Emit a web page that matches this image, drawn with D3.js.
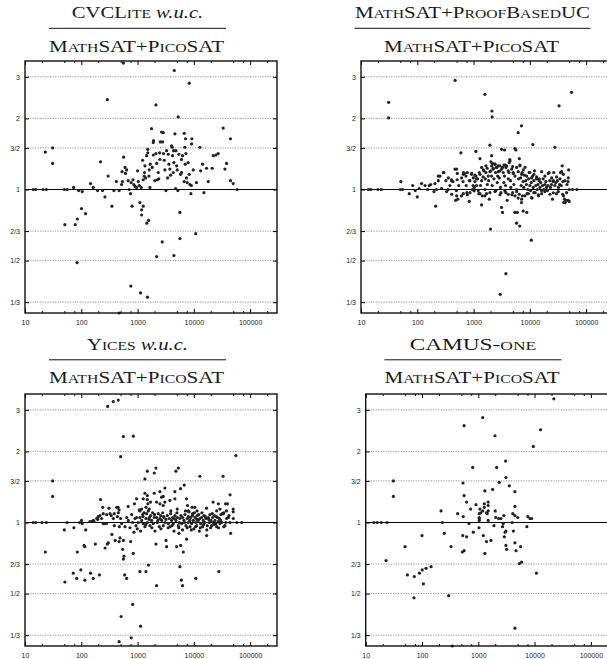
<!DOCTYPE html>
<html><head><meta charset="utf-8">
<script src="https://cdn.jsdelivr.net/npm/d3@7"></script>
<style>body{margin:0;background:#fff}svg{display:block}</style>
</head><body><svg id="c" width="607" height="659"></svg>
<script>
// ---------- data ----------
const xTickValues = [10, 100, 1000, 10000, 100000];
const xTickLabels = ["10", "100", "1000", "10000", "100000"];
const xMinorTickValues = [20, 50, 75, 200, 500, 750, 2000, 5000, 7500, 20000, 50000, 75000, 200000];
const yTickValues = [1/3, 1/2, 2/3, 1, 3/2, 2, 3];
const yTickLabels = ["1/3", "1/2", "2/3", "1", "3/2", "2", "3"];

// [instance size, time ratio]
const cvcData = [
[14,1],[15.5,1],[21,1],[24,1],[23,1.44],[31,1.5],[31,1.29],[50,1],[56,1],[51,0.71],
[73,1.02],[85,0.75],[78,0.71],[84,0.49],[90,0.99],[104,0.98],[101,0.83],[119,0.79],
[146,1.06],[163,1.02],[195,0.99],[220,1.31],[239,0.99],[263,0.93],[290,2.4],[300,1.14],
[350,0.85],[380,0.99],[420,1.08],[470,0.99],[560,3.43],[470,0.30],
[520,1.05],[540,1.08],[565,1.37],[530,1.19],[600,1.24],[610,1.17],[640,1.21],[680,1.09],
[710,1.0],[750,0.96],[770,1.07],[800,0.85],[830,1.1],[860,1.05],[900,1.03],[960,1.02],
[1000,1.2],[1030,1.08],[1070,1.04],[1100,0.88],[1160,1.02],[1180,0.82],[1180,0.78],
[1260,0.85],[1260,1.1],[1230,1.33],[1350,1.26],[1330,1.18],[1310,1.14],[1390,1.12],
[1450,1.39],[1460,0.72],[1570,0.74],[1520,1.43],[1520,1.48],[1590,1.14],[1610,1.21],
[1680,1.28],[1660,1.02],[1770,1.81],[1820,1.24],[1900,1.58],[1920,1.61],[1900,1.4],
[2030,1.09],[2120,1.42],[2180,1.29],[2240,1.1],[2330,1.18],[2380,1.11],[2460,1.43],
[2490,1.34],[2530,1.59],[2670,1.75],[2780,1.59],[2860,1.74],[2890,1.42],[2980,1.33],
[3060,1.21],[3190,0.99],[3280,1.46],[3420,1.12],[3510,1.41],[3600,1.28],[3750,1.22],
[3850,1.15],[4020,1.53],[4130,1.51],[4180,1.39],[4300,1.18],[4360,1.46],[4420,1.3],
[4610,1.72],[4740,1.01],[4810,1.46],[4940,1.26],[5070,1.21],[5200,0.99],[5280,2.03],
[5420,1.41],[5650,0.8],[5800,1.16],[6040,1.34],[6040,1.18],[6300,1.39],[6730,1.73],
[6730,1.08],[6920,1.51],[7120,1.64],[7020,1.28],[7220,1.42],[7420,1.12],[7620,1.07],
[7940,1.3],[8280,1.16],[8510,1.05],[8870,0.96],[9110,1.56],[9230,1.64],[9000,1.04],
[9750,1.21],[11100,1.07],[12800,1.51],[13200,1.2],[14300,1.28],[15100,0.97],[16800,1.23],
[18000,1.08],[21200,1.23],[22100,1.39],[24600,1.4],[27000,1.42],[33200,1.82],[35600,1.22],
[38100,1.29],[44800,1.64],[44800,1.09],[50000,1.06],[58800,1.0],
[2740,0.6],[2180,0.52],[4420,0.525],[5650,0.62],[10800,0.65],[760,0.39],[1130,0.365],
[1500,0.35],[2120,2.28],[4490,3.19],[8280,2.82]
];

const proofData = [
[13.5,1],[15,1],[20,1],[23,1],[31,2.34],[31,2.01],[51,1.08],[50,1],[55,1],[72,0.96],
[83,1.04],[92,0.99],[100,0.93],[108,1.01],[119,1.06],[137,1.04],[153,1.0],[163,1.04],
[173,1.05],[198,0.98],[206,1.06],[212,0.85],[220,1.0],[236,1.09],[253,1.14],[270,1.01],
[297,1.18],[322,1.09],[354,1.0],[380,1.04],[405,1.1],[430,1.08],[467,1.22],[480,0.9],
[495,0.99],[510,1.1],[525,0.91],[545,1.04],[595,1.43],[610,0.94],[650,1.08],[660,1.18],
[690,1.17],[740,1.04],[760,0.97],[840,0.89],[860,1.09],[920,1.16],[950,1.0],[980,1.04],
[1030,1.02],[1060,1.08],[1100,1.14],[1130,1.04],[1180,1.11],[1210,0.99],[1240,0.96],
[1260,1.18],[1300,1.35],[1330,1.04],[1390,1.09],[1430,0.94],[1480,1.13],[1530,1.2],
[1590,1.0],[1610,1.11],[1660,1.26],[1700,0.96],[1750,1.05],[1820,1.14],[1850,1.09],
[1900,0.91],[2030,1.2],[2090,1.14],[2140,1.04],[2170,1.29],[2230,1.23],[2300,1.11],
[2390,1.28],[2460,1.18],[2490,0.99],[2560,1.24],[2630,1.07],[2670,1.14],[2740,1.26],
[2860,1.12],[2940,1.2],[3010,1.02],[3070,0.97],[3270,1.24],[3370,1.18],[3450,1.07],
[3550,1.14],[3600,1.27],[3700,1.04],[3750,0.97],[3860,1.26],[3950,0.9],[4130,1.11],
[4240,1.18],[4300,1.3],[4400,1.34],[4530,1.09],[4590,1.02],[4800,0.95],[4940,1.25],
[5050,1.18],[5200,1.05],[5430,1.49],[5650,1.47],[5820,1.0],[6000,0.8],[6200,0.92],
[6300,1.11],[6500,1.35],[6660,1.26],[6860,1.12],[7000,1.04],[7100,0.88],[7300,1.18],
[7400,0.94],[7600,1.08],[7800,1.02],[8000,1.15],[8200,1.24],[8450,1.09],[8700,1.05],
[8940,0.96],[9200,1.0],[9450,1.11],[9730,1.18],[10000,1.04],[10300,0.99],[10600,1.07],
[10900,0.92],[11200,1.14],[11500,1.02],[11800,1.09],[12100,1.2],[12400,0.97],[12800,1.04],
[13100,1.11],[13500,1.0],[13900,1.05],[14300,0.94],[14600,1.09],[15100,1.02],[15600,1.07],
[16100,0.99],[16800,1.04],[17200,1.11],[17700,1.0],[18500,1.05],[19200,1.08],[19700,1.02],
[20500,0.99],[21000,1.04],[22000,1.18],[22600,1.09],[23200,1.02],[24200,1.05],[25200,0.91],
[25800,1.08],[26500,1.18],[27800,1.04],[28900,1.07],[29700,0.96],[30800,1.09],[32200,1.02],
[33800,1.05],[35000,1.18],[36000,1.04],[37600,1.26],[38600,1.08],[39600,0.94],[41200,0.91],
[42400,0.88],[44000,0.9],[45700,1.05],[47600,1.08],[48900,1.21],[50200,1.0],[57400,1.0],
[68600,1.0],
[470,2.9],[1590,2.53],[2120,2.15],[2140,2.03],[1950,1.54],[2090,1.39],[2030,1.31],
[1100,1.45],[3140,1.48],[3550,1.47],[7100,1.86],[6200,1.74],[11300,1.55],[27800,1.51],
[33000,2.26],[55000,2.58],[1390,0.86],[3140,0.84],[3270,0.8],[5400,0.8],[5800,0.72],
[6600,0.7],[7600,0.81],[8800,0.8],[2000,0.68],[10600,0.61],[3750,0.44],[2980,0.36],
[40000,0.88],[48000,0.9],[50000,0.89],
[236,1.14],[290,1.18],[356,1.12],[408,1.09],[500,1.22],[514,1.17],[614,1.12],[657,1.16],
[733,1.14],[774,1.18],[840,1.09],[925,1.17],[990,1.12],[1060,1.15],[1130,1.11],[1300,1.16],
[1390,1.24],[1490,1.21],[1660,1.18],[1750,1.23],[1950,1.19],[2090,1.26],[2240,1.22],
[2400,1.28],[2570,1.24],[2750,1.19],[2940,1.26],[3150,1.22],[3470,1.27],[3770,1.24],
[4140,1.2],[4440,1.32],[4750,1.22],[5080,1.17],[5440,1.14],[5820,1.24],[6230,1.19],
[6670,1.27],[7140,1.16],[7640,1.21],[8770,1.14],[10000,1.18],[10700,1.12],[11800,1.16],
[13200,1.13],[14700,1.11],[16200,1.19],[18500,1.14],[21200,1.17],[24400,1.12],[26100,1.09],
[29900,1.13],[34300,1.11],[36700,1.19],[39300,1.16],[42000,1.09],[48200,1.12],
[333,0.98],[408,0.955],[500,0.94],[657,0.96],[774,0.95],[863,0.97],[1020,0.987],[1300,0.96],
[1590,0.94],[1950,0.97],[2400,0.98],[2940,0.95],[3600,0.987],[4140,0.955],[4950,0.97],
[5440,0.94],[5820,0.98],[6480,0.955],[7140,0.91],[8180,0.94],[9380,0.96],[10700,0.925],
[11800,0.97],[14100,0.95],[16200,0.96],[18500,0.98],[22800,0.955],[26100,0.968],[32000,0.98],
[38200,0.955],[45000,0.97]
];

const yicesData = [
[14,1],[15.5,1],[20,1],[24,1],[31,1.5],[31,1.29],[23,0.75],[50,0.93],[51,0.56],[56,1],
[74,0.95],[85,0.75],[72,0.61],[83,0.58],[93,1],[98,0.63],[101,1.02],[104,0.99],[116,0.79],
[116,0.57],[120,0.93],[146,0.61],[163,0.58],[178,0.81],[210,0.6],[220,1.25],[240,1.16],
[245,1.09],[265,0.78],[290,0.81],[310,1.15],[350,0.89],[400,0.84],[150,1.01],[168,1.01],
[195,1.03],[215,1.07],[255,0.99],[280,0.99],[340,1.07],[385,1.09],[425,1.16],[450,1.16],
[470,0.83],
[294,3.1],[370,3.25],[454,3.3],[560,2.31],[840,2.32],[500,1.9],
[510,0.40],[820,0.45],[1130,0.364],[770,0.325],[470,0.313],
[1490,1.65],[2120,1.7],[1980,1.62],[4800,1.65],[5300,1.7],[1350,1.53],[12800,1.57],
[33000,1.57],[55600,1.92],[6750,1.44],[5800,1.39],[3060,1.4],[4600,1.35],[1350,1.33],
[1490,1.3],[1980,1.33],[2490,1.35],[2670,1.28],[2860,1.29],[960,1.26],[1490,1.25],
[1700,1.22],[1260,1.26],[470,1.13],[680,1.17],[880,1.2],[1100,1.12],[1180,1.14],
[1410,1.16],[1520,1.2],[1610,1.14],[2180,1.22],[2490,1.2],[2850,1.18],[3060,1.22],
[3750,1.24],[4600,1.26],[5070,1.14],[7400,1.26],[7700,1.18],[7900,1.12],[9300,1.16],
[10400,1.16],[11400,1.12],[16800,1.15],[22000,1.22],[25400,1.12],[27200,1.2],[29000,1.14],
[36600,1.2],[38000,1.12],[39500,1.2],[44000,1.31],[32000,1.09],[34000,1.1],[50000,1.14],
[50000,1.11],[37000,1.0],[45000,0.9],[58000,1],[71000,1],
[143,1.01],[164,1.02],[188,1.04],[200,1.06],[230,1.04],[246,0.99],[282,1.08],[324,1.09],
[371,1.04],[386,0.97],[437,1.06],[455,1.1],[474,0.96],[500,1.04],[521,0.99],[598,0.96],
[640,1.05],[685,1.02],[733,0.95],[785,1.08],[817,1.0],[900,1.04],[937,0.97],[963,1.05],
[990,0.94],[1030,1.0],[1070,1.13],[1100,1.05],[1180,1.02],[1230,1.08],[1265,0.99],
[1300,1.1],[1350,0.96],[1410,1.04],[1450,1.09],[1490,1.0],[1550,1.12],[1615,1.05],
[1660,0.97],[1705,1.07],[1780,1.02],[1850,1.1],[1900,0.99],[1985,1.05],[2180,1.05],
[2240,1.0],[2330,1.09],[2430,0.96],[2500,1.04],[2570,1.07],[2680,1.02],[2790,1.1],
[2860,0.97],[2940,1.05],[3070,1.0],[3380,1.07],[3520,0.99],[3660,1.04],[3770,0.96],
[3870,1.09],[4030,1.02],[4200,1.05],[4310,0.99],[4440,0.92],[4620,1.07],[4810,1.02],
[5080,1.05],[5290,0.97],[5510,1.0],[5660,1.04],[6070,0.99],[6320,1.05],[6670,1.02],
[6950,1.08],[7240,0.97],[7640,1.04],[7960,1.0],[8180,1.11],[8530,0.96],[8770,1.05],
[9130,0.99],[9510,1.09],[9770,1.02],[10000,0.94],[10500,1.05],[10900,1.0],[11200,0.97],
[11500,1.07],[12000,1.02],[12500,0.92],[12800,1.04],[13200,0.99],[13700,1.05],[14300,0.96],
[14700,1.02],[15100,1.07],[15700,1.0],[16400,1.04],[17300,0.97],[18100,1.05],[18800,1.0],
[19300,1.08],[20100,1.02],[20700,0.97],[21600,1.05],[22100,1.0],[23100,1.07],[23700,1.02],
[24700,0.99],[25400,0.96],[26400,1.05],[27200,1.01],[28300,1.04],[29100,0.99],[30300,1.08],
[31100,1.0],[33300,1.09],[35700,0.97],[38200,1.04],[40900,1.05],[43800,1.0],[50200,1.04],
[112,0.8],[302,0.82],[487,0.86],[543,0.77],[558,0.84],[573,0.72],[753,0.83],[840,0.74],
[863,0.91],[1130,0.92],[2040,0.92],[2120,0.81],[3200,0.84],[3280,0.79],[4940,0.79],
[5440,0.9],[5820,0.8],[6490,0.75],[7440,0.85],[16900,0.88],
[560,0.7],[590,0.6],[640,0.58],[1100,0.62],[1410,0.62],[1560,0.66],[2180,0.54],[5650,0.65],
[6000,0.57],[6300,0.54],[10800,0.58],[27800,0.62],
[1250,1.06],[1400,0.98],[1600,1.03],[1800,0.95],[2000,1.08],[2300,1.02],[2600,0.94],
[2900,1.06],[3200,1.03],[3500,0.95],[3900,1.12],[4100,0.97],[4500,1.04],[5000,1.1],
[5400,0.95],[5900,1.07],[6300,0.93],[6800,1.0],[7100,1.12],[7600,0.95],[8000,1.06],
[8500,1.02],[9000,0.93],[9400,1.07],[10200,1.1],[10700,0.96],[11300,1.03],[12200,1.08],
[13000,0.95],[13900,1.1],[14900,0.98],[16000,1.06],[17000,0.93],[18400,1.03],[19800,0.95],
[21200,1.09],[23000,0.98],[25000,1.06],[27500,0.95],[30000,1.02],[34000,0.96],[42000,1.07]
];

const camusData = [
[14,1],[16,1],[19,1],[24,1],[31,1.5],[31,1.29],[23,0.69],[50,0.79],[55,0.6],[73,0.59],
[72,0.48],[90,0.61],[101,0.63],[106,0.55],[118,0.64],[145,0.65],[100,0.88],[218,1.12],
[230,1.0],[250,0.9],[328,0.79],[298,0.49],[430,1.09],[540,1.06],[684,0.99],[520,0.75],
[560,0.76],[530,0.88],[620,0.87],[535,1.47],[560,1.3],[620,1.22],[730,1.14],[910,1.19],
[815,0.91],[560,2.57],[795,1.71],[1030,0.95],[1040,1.09],[1040,1.05],[1040,1.04],[1040,1.02],
[1070,1.14],[1110,1.1],[1200,1.12],[1230,0.88],[1280,1.2],[1280,1.16],[1310,0.74],[1200,2.78],
[1310,1.36],[1400,0.83],[1500,1.22],[1500,1.18],[1500,1.12],[1500,1.02],[1400,1.1],[1440,1.09],
[1680,0.84],[1800,1.38],[1900,0.97],[2000,1.12],[2040,1.05],[1980,2.33],[2120,1.71],[2300,1.04],
[2360,1.48],[2530,1.04],[2700,0.96],[2780,0.99],[2850,1.07],[2900,0.87],[3000,0.91],[3100,0.92],
[3060,1.82],[3100,1.55],[3100,0.8],[3200,0.77],[3550,1.43],[4000,1.0],[4100,1.09],[4200,0.92],
[4480,1.35],[4480,1.17],[4480,1.07],[4480,0.82],[4680,0.76],[4480,0.357],[5360,0.67],[5890,0.68],
[5640,0.79],[5000,1.05],[7600,1.06],[8300,1.04],[7300,0.96],[8900,1.04],[9500,2.1],[10800,0.61],
[12800,2.47],[22000,3.34],[345,0.30]
];

const panelData = [cvcData, proofData, yicesData, camusData];
const numerators = [
  [{t:"CVCLite", sc:true}, {t:" w.u.c.", it:true}],
  [{t:"MathSAT+ProofBasedUC", sc:true}],
  [{t:"Yices", sc:true}, {t:" w.u.c.", it:true}],
  [{t:"CAMUS-one", sc:true}]
];
const denominator = [{t:"MathSAT+PicoSAT", sc:true}];

// ---------- layout ----------
const plotSize = 252;
const panels = [
  {left:25,    top:61,  cx:137.5, ty:0,     numW:131.6, lineW:177},
  {left:361,   top:61,  cx:472.5, ty:0,     numW:235,   lineW:236},
  {left:25,    top:394, cx:137.5, ty:331.5, numW:101,   lineW:177},
  {left:365.7, top:394, cx:473,   ty:331.5, numW:126.6, lineW:177}
];
const denW = 175;

const svg = d3.select("#c");
const serif = "'Liberation Serif','Times New Roman',serif";
const sans = "'Liberation Sans',Arial,Helvetica,sans-serif";
const baseSize = 16;

function drawText(g, parts, x, y, width) {
  const t = g.append("text").attr("x", x).attr("y", y)
    .attr("text-anchor", "middle")
    .attr("font-family", serif).attr("font-size", baseSize).attr("fill", "#1a1a1a");
  parts.forEach(p => {
    if (p.sc) {
      // small caps: lowercase runs rendered as (larger) synthesized small capitals
      const runs = p.t.match(/[a-z]+|[^a-z]+/g);
      runs.forEach(r => {
        const low = /[a-z]/.test(r[0]);
        t.append("tspan").text(r)
          .attr("font-size", low ? baseSize * 1.09 : baseSize)
          .style("font-variant", low ? "small-caps" : "normal");
      });
    } else {
      t.append("tspan").text(p.t)
        .style("font-style", p.it ? "italic" : "normal");
    }
  });
  t.attr("textLength", width).attr("lengthAdjust", "spacingAndGlyphs");
  return t;
}

panels.forEach((p, i) => {
  const data = panelData[i];
  const x = d3.scaleLog().domain([10, 300000]).range([p.left, p.left + plotSize]);
  const y = d3.scaleLog().domain([0.3, 3.5]).range([p.top + plotSize, p.top]);
  const g = svg.append("g");

  // title (fraction)
  drawText(g, numerators[i], p.cx, 18.3 + p.ty, p.numW);
  g.append("line").attr("x1", p.cx - p.lineW/2).attr("x2", p.cx + p.lineW/2)
    .attr("y1", 28.3 + p.ty).attr("y2", 28.3 + p.ty)
    .attr("stroke", "#111").attr("stroke-width", 1);
  drawText(g, denominator, p.cx - 1, 51.5 + p.ty, denW);

  // grid lines
  g.append("g").selectAll("line").data(yTickValues.filter(v => v !== 1)).join("line")
    .attr("x1", p.left).attr("x2", p.left + plotSize)
    .attr("y1", d => y(d)).attr("y2", d => y(d))
    .attr("stroke", "#777").attr("stroke-width", 0.8).attr("stroke-dasharray", "1.2,1.3");
  g.append("line").attr("x1", p.left).attr("x2", p.left + plotSize)
    .attr("y1", y(1)).attr("y2", y(1)).attr("stroke", "#000").attr("stroke-width", 1.2);

  // points
  g.append("g").selectAll("circle").data(data).join("circle")
    .attr("cx", d => x(d[0])).attr("cy", d => y(d[1])).attr("r", 1.6).attr("fill", "#222");

  // axes
  const fmtX = d => xTickLabels[xTickValues.indexOf(d)];
  const fmtY = d => yTickLabels[yTickValues.indexOf(d)];
  const axB = g.append("g").attr("transform", `translate(0,${p.top + plotSize})`)
    .call(d3.axisBottom(x).tickValues(xTickValues).tickFormat(fmtX).tickSize(-4).tickPadding(7));
  const axBm = g.append("g").attr("transform", `translate(0,${p.top + plotSize})`)
    .call(d3.axisBottom(x).tickValues(xMinorTickValues).tickFormat("").tickSize(-2));
  const axT = g.append("g").attr("transform", `translate(0,${p.top})`)
    .call(d3.axisTop(x).tickValues(xTickValues).tickFormat("").tickSize(-4));
  const axTm = g.append("g").attr("transform", `translate(0,${p.top})`)
    .call(d3.axisTop(x).tickValues(xMinorTickValues).tickFormat("").tickSize(-2));
  const axL = g.append("g").attr("transform", `translate(${p.left},0)`)
    .call(d3.axisLeft(y).tickValues(yTickValues).tickFormat(fmtY).tickSize(-4).tickPadding(5));
  const axR = g.append("g").attr("transform", `translate(${p.left + plotSize},0)`)
    .call(d3.axisRight(y).tickValues(yTickValues).tickFormat("").tickSize(-4));
  [axB, axBm, axT, axTm, axL, axR].forEach(a => {
    a.select(".domain").remove();
    a.selectAll("line").attr("stroke", "#000").attr("stroke-width", 1);
    a.selectAll("text").attr("font-family", sans).attr("font-size", 7).attr("fill", "#222");
  });

  // border
  g.append("rect").attr("x", p.left).attr("y", p.top).attr("width", plotSize).attr("height", plotSize)
    .attr("fill", "none").attr("stroke", "#111").attr("stroke-width", 1.4);
});
</script>
</body></html>
